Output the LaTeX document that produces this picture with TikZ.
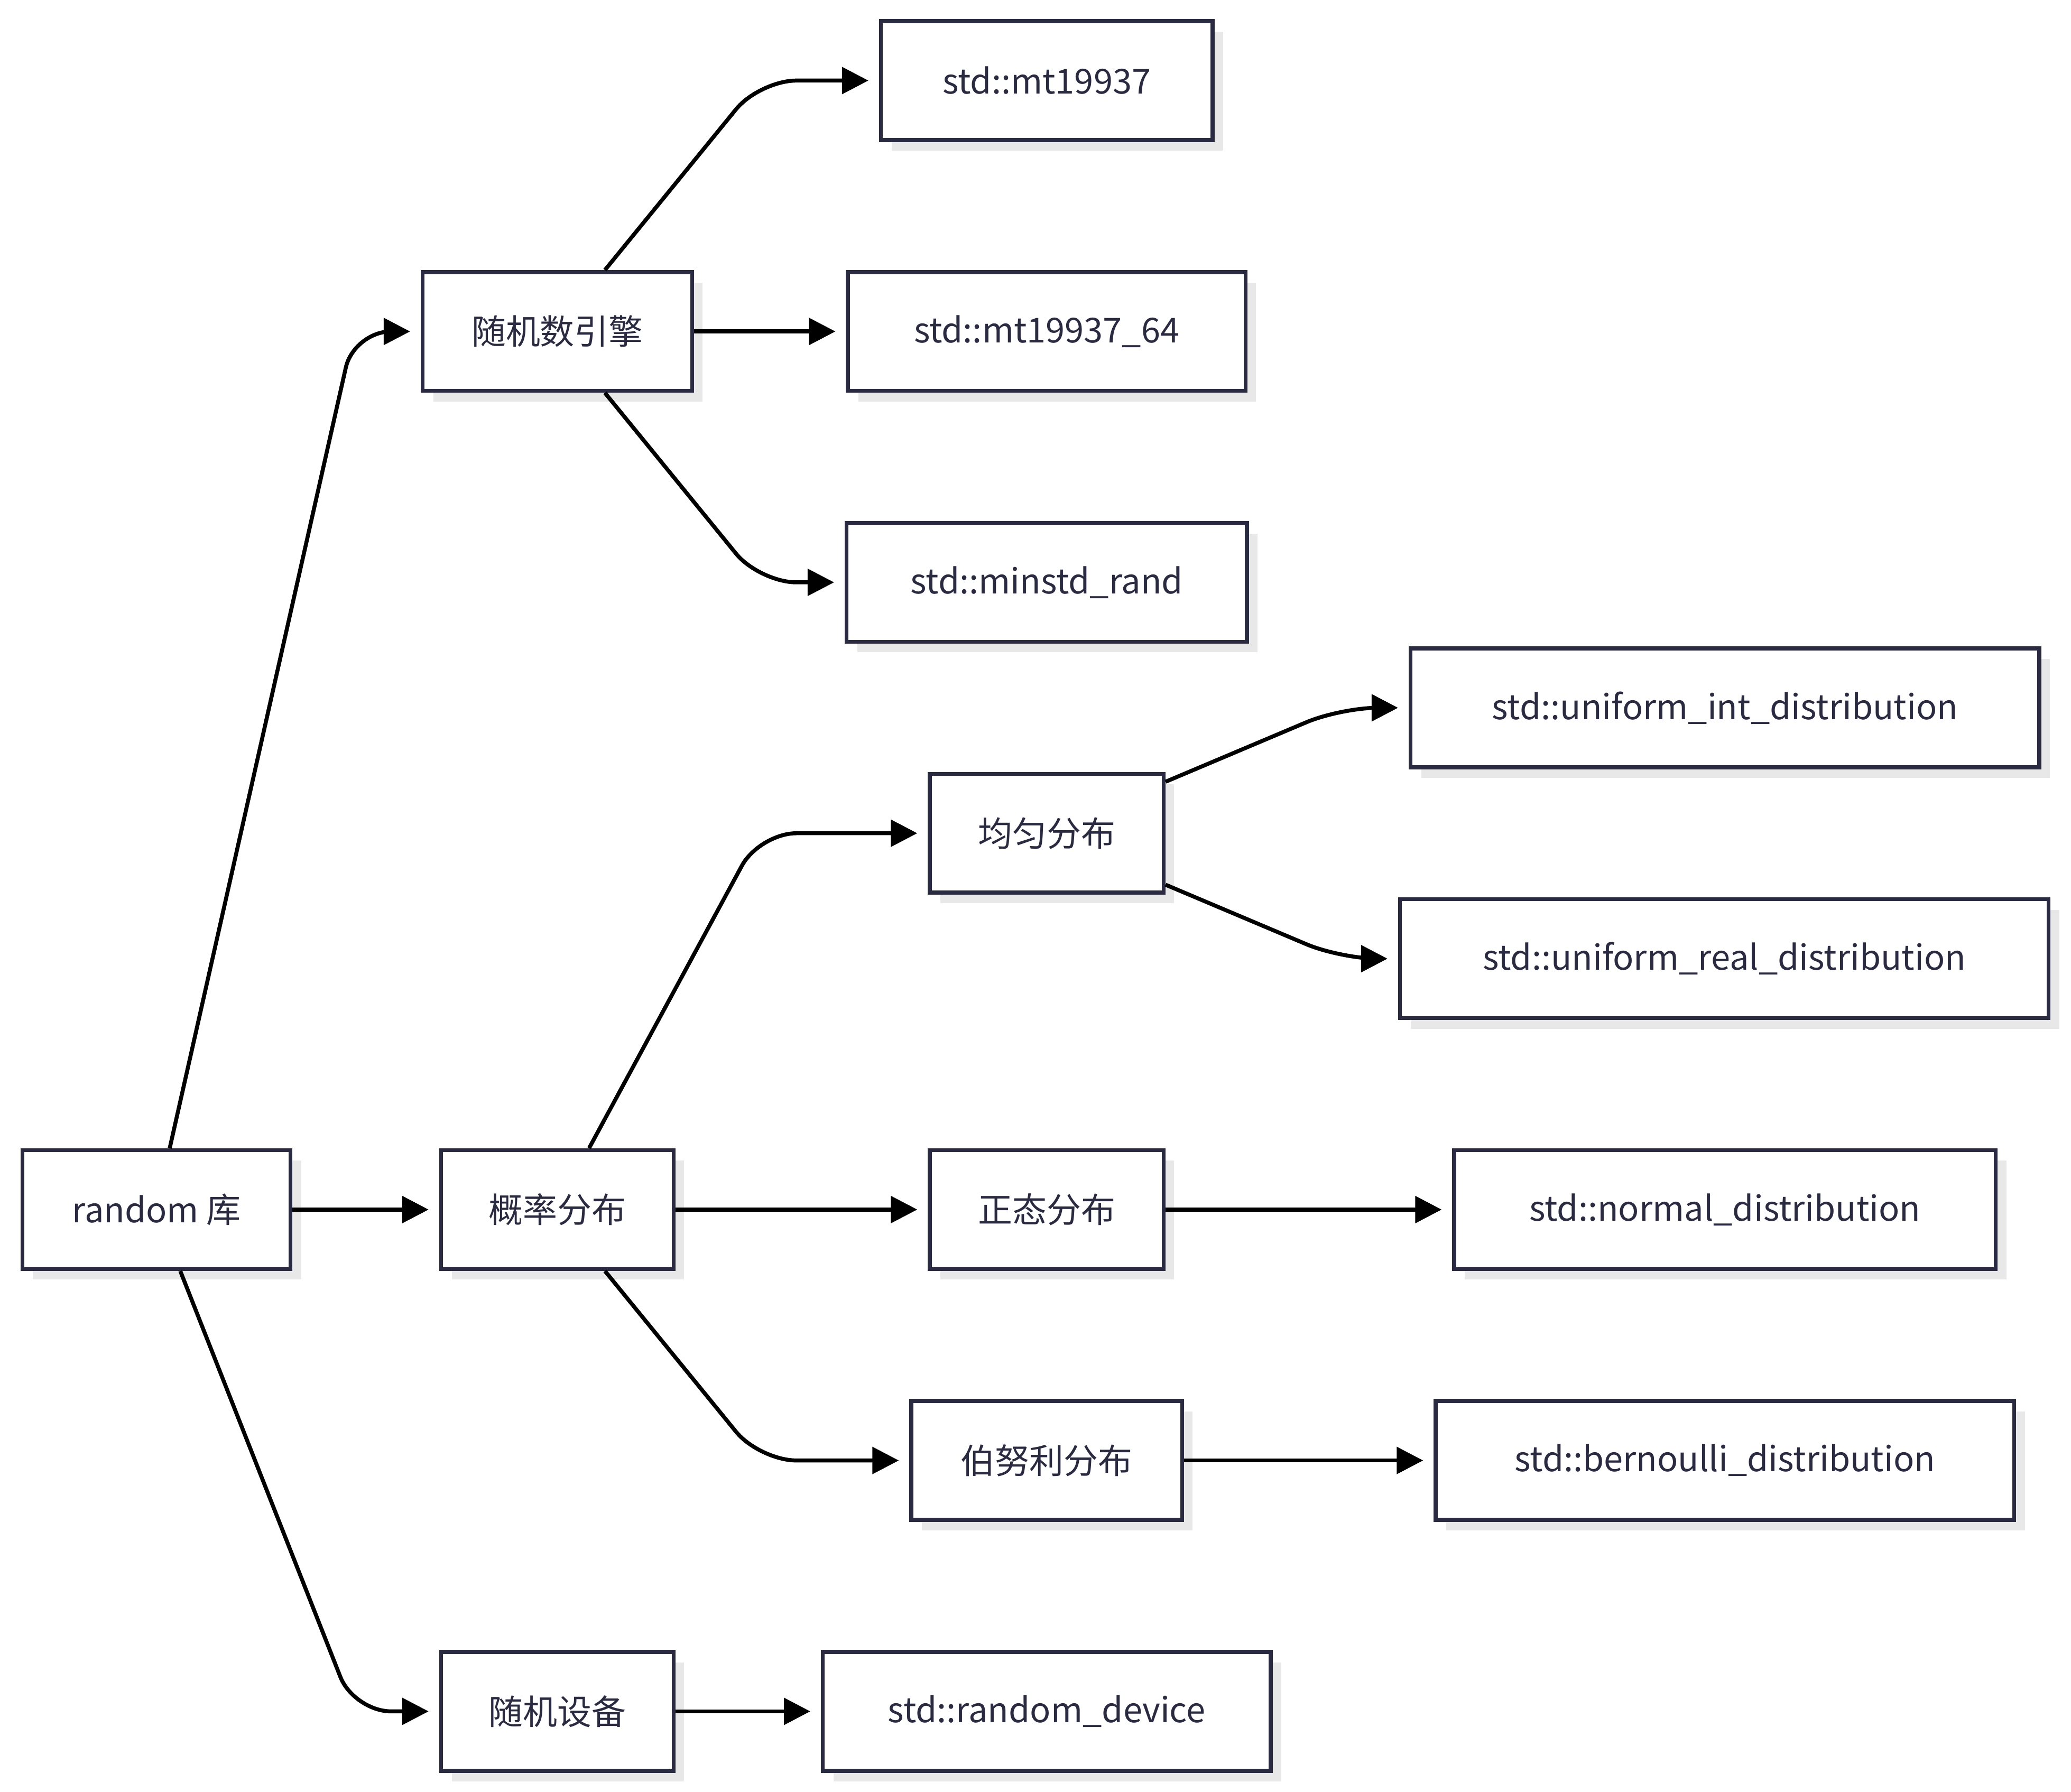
\documentclass[tikz,border=0pt]{standalone}
\usepackage{fontspec}
\setmainfont{Noto Sans CJK SC}
\usetikzlibrary{arrows.meta,shadows}
\definecolor{bd}{HTML}{2A2A40}
\definecolor{sh}{HTML}{E8E8E8}
\tikzset{
  box/.style={draw=bd,line width=1.5pt,fill=white,minimum height=45pt,inner sep=0pt,
    font=\fontsize{13}{15}\selectfont,text=bd,
    drop shadow={shadow xshift=4pt,shadow yshift=-4pt,fill=sh,opacity=1}},
  arr/.style={draw=black,line width=1.5pt,-{Triangle[length=10pt,width=10pt]},shorten >=4pt,rounded corners=14pt}
}
\begin{document}
\begin{tikzpicture}[x=0.5pt,y=-0.5pt]
\useasboundingbox (0,0) rectangle (1568,1357);
\node[box,minimum width=101.5pt] (r) at (118.5,916) {random 库};
\node[box,minimum width=102pt] (e) at (422,251) {随机数引擎};
\node[box,minimum width=88pt] (p) at (422,916) {概率分布};
\node[box,minimum width=88pt] (d) at (422,1296) {随机设备};
\node[box,minimum width=125.5pt] (m1) at (792.5,61) {std::mt19937};
\node[box,minimum width=150.5pt] (m2) at (792.5,251) {std::mt19937\_64};
\node[box,minimum width=151.5pt] (m3) at (792.5,441) {std::minstd\_rand};
\node[box,minimum width=88.5pt] (u) at (792.5,631) {均匀分布};
\node[box,minimum width=88.5pt] (n) at (792.5,916) {正态分布};
\node[box,minimum width=102.5pt] (b) at (792.5,1106) {伯努利分布};
\node[box,minimum width=169.5pt] (rd) at (792.5,1296) {std::random\_device};
\node[box,minimum width=238pt] (ui) at (1306,536) {std::uniform\_int\_distribution};
\node[box,minimum width=245.5pt] (ur) at (1305.5,726) {std::uniform\_real\_distribution};
\node[box,minimum width=205pt] (nd) at (1306,916) {std::normal\_distribution};
\node[box,minimum width=219pt] (bd2) at (1306,1106) {std::bernoulli\_distribution};
\coordinate (c1) at (268,251);
\coordinate (c2) at (268,1296);
\coordinate (c3) at (575,61);
\coordinate (c4) at (575,441);
\coordinate (c5) at (575,631);
\coordinate (c6) at (575,1106);
\coordinate (c7) at (1015,536);
\coordinate (c8) at (1015,726);
\draw[arr] ([xshift=5pt]r.north) -- (c1) -- (e.west);
\draw[arr] (r.east) -- (p.west);
\draw[arr] ([xshift=9pt]r.south) -- (c2) -- (d.west);
\draw[arr] ([xshift=18pt]e.north) -- (c3) -- (m1.west);
\draw[arr] (e.east) -- (m2.west);
\draw[arr] ([xshift=18pt]e.south) -- (c4) -- (m3.west);
\draw[arr] ([xshift=12pt]p.north) -- (c5) -- (u.west);
\draw[arr] (p.east) -- (n.west);
\draw[arr] ([xshift=18pt]p.south) -- (c6) -- (b.west);
\draw[arr] (d.east) -- (rd.west);
\draw[arr] ([yshift=19.5pt]u.east) -- (c7) -- (ui.west);
\draw[arr] ([yshift=-19.5pt]u.east) -- (c8) -- (ur.west);
\draw[arr] (n.east) -- (nd.west);
\draw[arr] (b.east) -- (bd2.west);
\end{tikzpicture}
\end{document}
